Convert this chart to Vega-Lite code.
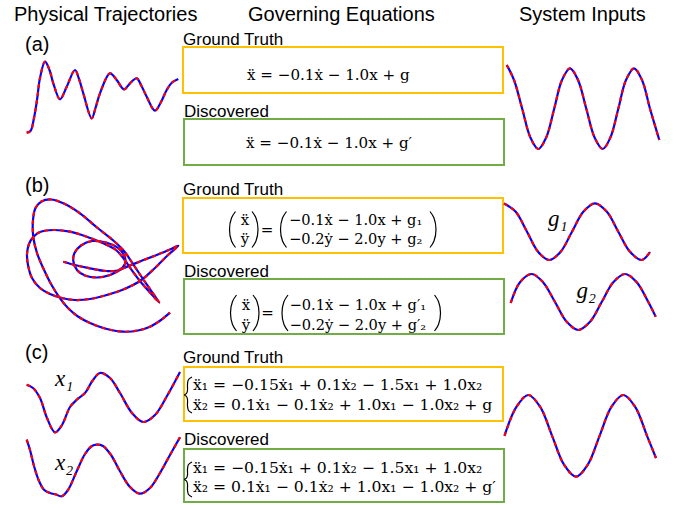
{
  "$schema": "https://vega.github.io/schema/vega-lite/v6.json",
  "width": 677,
  "height": 508,
  "autosize": {"type": "fit", "contains": "padding"},
  "padding": 0,
  "background": "white",
  "config": {"view": {"stroke": null}},
  "datasets": {
    "boxes": [
      {"x": 183, "y": 47, "x2": 503, "y2": 93, "c": "gt"},
      {"x": 184, "y": 119, "x2": 504, "y2": 165, "c": "disc"},
      {"x": 183, "y": 198, "x2": 503, "y2": 253, "c": "gt"},
      {"x": 184, "y": 279, "x2": 504, "y2": 334, "c": "disc"},
      {"x": 184, "y": 367, "x2": 503, "y2": 421, "c": "gt"},
      {"x": 184, "y": 449, "x2": 504, "y2": 502, "c": "disc"}
    ],
    "texts": [
      {"k": "h", "t": "Physical Trajectories", "x": 14, "y": 21},
      {"k": "h", "t": "Governing Equations", "x": 248, "y": 21},
      {"k": "h", "t": "System Inputs", "x": 519, "y": 21},
      {"k": "h", "t": "(a)", "x": 25, "y": 51},
      {"k": "h", "t": "(b)", "x": 25, "y": 191.5},
      {"k": "h", "t": "(c)", "x": 25, "y": 358.5},
      {"k": "l", "t": "Ground Truth", "x": 183, "y": 45},
      {"k": "l", "t": "Discovered", "x": 184, "y": 116.5},
      {"k": "l", "t": "Ground Truth", "x": 183, "y": 195.3},
      {"k": "l", "t": "Discovered", "x": 184, "y": 277},
      {"k": "l", "t": "Ground Truth", "x": 183, "y": 363.3},
      {"k": "l", "t": "Discovered", "x": 184, "y": 445},
      {"k": "ea", "t": "ẍ = −0.1ẋ − 1.0x + g", "x": 247, "y": 80},
      {"k": "ea", "t": "ẍ = −0.1ẋ − 1.0x + g′", "x": 246, "y": 148},
      {"k": "eb", "t": "−0.1ẋ − 1.0x + g₁", "x": 289, "y": 224.7},
      {"k": "eb", "t": "−0.2ẏ − 2.0y + g₂", "x": 289, "y": 244},
      {"k": "eb", "t": "−0.1ẋ − 1.0x + g′₁", "x": 289.5, "y": 309.7},
      {"k": "eb", "t": "−0.2ẏ − 2.0y + g′₂", "x": 289.5, "y": 329.7},
      {"k": "ec", "t": "ẍ₁ = −0.15ẋ₁ + 0.1ẋ₂ − 1.5x₁ + 1.0x₂", "x": 193, "y": 390},
      {"k": "ec", "t": "ẍ₂ = 0.1ẋ₁ − 0.1ẋ₂ + 1.0x₁ − 1.0x₂ + g", "x": 193, "y": 410},
      {"k": "ec", "t": "ẍ₁ = −0.15ẋ₁ + 0.1ẋ₂ − 1.5x₁ + 1.0x₂", "x": 193, "y": 473.3},
      {"k": "ec", "t": "ẍ₂ = 0.1ẋ₁ − 0.1ẋ₂ + 1.0x₁ − 1.0x₂ + g′", "x": 193, "y": 491.7},
      {"k": "c", "t": "ẍ", "x": 245, "y": 224.7},
      {"k": "c", "t": "ÿ", "x": 245, "y": 244},
      {"k": "c", "t": "=", "x": 267, "y": 234.5},
      {"k": "c", "t": "ẍ", "x": 246, "y": 309.7},
      {"k": "c", "t": "ÿ", "x": 246, "y": 329.7},
      {"k": "c", "t": "=", "x": 267.5, "y": 317.5},
      {"k": "v", "t": "g₁", "x": 548, "y": 226},
      {"k": "v", "t": "g₂", "x": 576.5, "y": 298},
      {"k": "v", "t": "x₁", "x": 55, "y": 386},
      {"k": "v", "t": "x₂", "x": 55, "y": 469.5}
    ],
    "parens": [
      {"id": "p1", "o": 1, "x": 235.5, "y": 211.5}, {"id": "p1", "o": 2, "x": 231.5, "y": 218}, {"id": "p1", "o": 3, "x": 229.5, "y": 229.5}, {"id": "p1", "o": 4, "x": 231.5, "y": 241}, {"id": "p1", "o": 5, "x": 235.5, "y": 247.5},
      {"id": "p2", "o": 1, "x": 252, "y": 211.5}, {"id": "p2", "o": 2, "x": 256, "y": 218}, {"id": "p2", "o": 3, "x": 258, "y": 229.5}, {"id": "p2", "o": 4, "x": 256, "y": 241}, {"id": "p2", "o": 5, "x": 252, "y": 247.5},
      {"id": "p3", "o": 1, "x": 286.5, "y": 211.5}, {"id": "p3", "o": 2, "x": 282.5, "y": 218}, {"id": "p3", "o": 3, "x": 280.5, "y": 229.5}, {"id": "p3", "o": 4, "x": 282.5, "y": 241}, {"id": "p3", "o": 5, "x": 286.5, "y": 247.5},
      {"id": "p4", "o": 1, "x": 430, "y": 211.5}, {"id": "p4", "o": 2, "x": 434, "y": 218}, {"id": "p4", "o": 3, "x": 436, "y": 229.5}, {"id": "p4", "o": 4, "x": 434, "y": 241}, {"id": "p4", "o": 5, "x": 430, "y": 247.5},
      {"id": "p5", "o": 1, "x": 236.5, "y": 295}, {"id": "p5", "o": 2, "x": 232.5, "y": 301.5}, {"id": "p5", "o": 3, "x": 230.5, "y": 313}, {"id": "p5", "o": 4, "x": 232.5, "y": 324.5}, {"id": "p5", "o": 5, "x": 236.5, "y": 331},
      {"id": "p6", "o": 1, "x": 253, "y": 295}, {"id": "p6", "o": 2, "x": 257, "y": 301.5}, {"id": "p6", "o": 3, "x": 259, "y": 313}, {"id": "p6", "o": 4, "x": 257, "y": 324.5}, {"id": "p6", "o": 5, "x": 253, "y": 331},
      {"id": "p7", "o": 1, "x": 288, "y": 295}, {"id": "p7", "o": 2, "x": 284, "y": 301.5}, {"id": "p7", "o": 3, "x": 282, "y": 313}, {"id": "p7", "o": 4, "x": 284, "y": 324.5}, {"id": "p7", "o": 5, "x": 288, "y": 331},
      {"id": "p8", "o": 1, "x": 434.5, "y": 295}, {"id": "p8", "o": 2, "x": 438.5, "y": 301.5}, {"id": "p8", "o": 3, "x": 440.5, "y": 313}, {"id": "p8", "o": 4, "x": 438.5, "y": 324.5}, {"id": "p8", "o": 5, "x": 434.5, "y": 331},
      {"id": "b1", "o": 1, "x": 192, "y": 377}, {"id": "b1", "o": 2, "x": 188.5, "y": 379.5}, {"id": "b1", "o": 3, "x": 187.5, "y": 384}, {"id": "b1", "o": 4, "x": 187.5, "y": 390.5}, {"id": "b1", "o": 5, "x": 186.5, "y": 393.5}, {"id": "b1", "o": 6, "x": 184.5, "y": 395}, {"id": "b1", "o": 7, "x": 186.5, "y": 396.5}, {"id": "b1", "o": 8, "x": 187.5, "y": 399.5}, {"id": "b1", "o": 9, "x": 187.5, "y": 406}, {"id": "b1", "o": 10, "x": 188.5, "y": 410.5}, {"id": "b1", "o": 11, "x": 192, "y": 413},
      {"id": "b2", "o": 1, "x": 192, "y": 462}, {"id": "b2", "o": 2, "x": 188.5, "y": 464.5}, {"id": "b2", "o": 3, "x": 187.5, "y": 469}, {"id": "b2", "o": 4, "x": 187.5, "y": 475}, {"id": "b2", "o": 5, "x": 186.5, "y": 478}, {"id": "b2", "o": 6, "x": 184.5, "y": 479.5}, {"id": "b2", "o": 7, "x": 186.5, "y": 481}, {"id": "b2", "o": 8, "x": 187.5, "y": 484}, {"id": "b2", "o": 9, "x": 187.5, "y": 490}, {"id": "b2", "o": 10, "x": 188.5, "y": 494.5}, {"id": "b2", "o": 11, "x": 192, "y": 497}
    ],
    "curves": [
      {"id": "a_traj", "o": 1, "x": 26.7, "y": 132.7}, {"id": "a_traj", "o": 2, "x": 30.5, "y": 131}, {"id": "a_traj", "o": 3, "x": 34, "y": 118}, {"id": "a_traj", "o": 4, "x": 37, "y": 100}, {"id": "a_traj", "o": 5, "x": 40, "y": 78}, {"id": "a_traj", "o": 6, "x": 45, "y": 61.7}, {"id": "a_traj", "o": 7, "x": 49.5, "y": 70}, {"id": "a_traj", "o": 8, "x": 53.3, "y": 83.3}, {"id": "a_traj", "o": 9, "x": 60, "y": 99.3}, {"id": "a_traj", "o": 10, "x": 66.7, "y": 86.7}, {"id": "a_traj", "o": 11, "x": 75, "y": 70}, {"id": "a_traj", "o": 12, "x": 79, "y": 79}, {"id": "a_traj", "o": 13, "x": 83.3, "y": 93.3}, {"id": "a_traj", "o": 14, "x": 91.7, "y": 118.3}, {"id": "a_traj", "o": 15, "x": 95.5, "y": 108}, {"id": "a_traj", "o": 16, "x": 100, "y": 93.3}, {"id": "a_traj", "o": 17, "x": 110, "y": 73.3}, {"id": "a_traj", "o": 18, "x": 116.7, "y": 80}, {"id": "a_traj", "o": 19, "x": 124, "y": 89.3}, {"id": "a_traj", "o": 20, "x": 130, "y": 83.3}, {"id": "a_traj", "o": 21, "x": 136.7, "y": 78.3}, {"id": "a_traj", "o": 22, "x": 141.5, "y": 86}, {"id": "a_traj", "o": 23, "x": 146.7, "y": 96.7}, {"id": "a_traj", "o": 24, "x": 155, "y": 110.7}, {"id": "a_traj", "o": 25, "x": 161, "y": 102}, {"id": "a_traj", "o": 26, "x": 166.7, "y": 90}, {"id": "a_traj", "o": 27, "x": 172, "y": 82.5}, {"id": "a_traj", "o": 28, "x": 178.3, "y": 79},
      {"id": "a_in", "o": 1, "x": 506.7, "y": 65}, {"id": "a_in", "o": 2, "x": 514, "y": 80}, {"id": "a_in", "o": 3, "x": 522.2, "y": 108.7}, {"id": "a_in", "o": 4, "x": 530.3, "y": 137.3}, {"id": "a_in", "o": 5, "x": 538.3, "y": 149}, {"id": "a_in", "o": 6, "x": 546.3, "y": 137.3}, {"id": "a_in", "o": 7, "x": 554.2, "y": 108.7}, {"id": "a_in", "o": 8, "x": 562, "y": 80}, {"id": "a_in", "o": 9, "x": 570, "y": 68.3}, {"id": "a_in", "o": 10, "x": 578, "y": 80}, {"id": "a_in", "o": 11, "x": 586.3, "y": 108.7}, {"id": "a_in", "o": 12, "x": 594.5, "y": 137.3}, {"id": "a_in", "o": 13, "x": 602.7, "y": 149}, {"id": "a_in", "o": 14, "x": 610.5, "y": 137.3}, {"id": "a_in", "o": 15, "x": 618.3, "y": 108.7}, {"id": "a_in", "o": 16, "x": 626, "y": 80}, {"id": "a_in", "o": 17, "x": 634, "y": 68.3}, {"id": "a_in", "o": 18, "x": 642, "y": 80}, {"id": "a_in", "o": 19, "x": 650, "y": 108.7}, {"id": "a_in", "o": 20, "x": 659.3, "y": 140},
      {"id": "b_in1", "o": 1, "x": 504, "y": 203.5}, {"id": "b_in1", "o": 2, "x": 515.5, "y": 211.6}, {"id": "b_in1", "o": 3, "x": 527, "y": 231.7}, {"id": "b_in1", "o": 4, "x": 538, "y": 251.7}, {"id": "b_in1", "o": 5, "x": 549.3, "y": 260}, {"id": "b_in1", "o": 6, "x": 560.7, "y": 251.7}, {"id": "b_in1", "o": 7, "x": 572, "y": 231.7}, {"id": "b_in1", "o": 8, "x": 583.5, "y": 211.6}, {"id": "b_in1", "o": 9, "x": 595, "y": 203.3}, {"id": "b_in1", "o": 10, "x": 606.7, "y": 211.6}, {"id": "b_in1", "o": 11, "x": 618.3, "y": 231.7}, {"id": "b_in1", "o": 12, "x": 630, "y": 251.7}, {"id": "b_in1", "o": 13, "x": 641.7, "y": 260}, {"id": "b_in1", "o": 14, "x": 650, "y": 252},
      {"id": "b_in2", "o": 1, "x": 510.7, "y": 303}, {"id": "b_in2", "o": 2, "x": 520, "y": 282.2}, {"id": "b_in2", "o": 3, "x": 531.7, "y": 274}, {"id": "b_in2", "o": 4, "x": 543, "y": 282.2}, {"id": "b_in2", "o": 5, "x": 555, "y": 302}, {"id": "b_in2", "o": 6, "x": 566.7, "y": 321.8}, {"id": "b_in2", "o": 7, "x": 578.3, "y": 330}, {"id": "b_in2", "o": 8, "x": 590, "y": 321.8}, {"id": "b_in2", "o": 9, "x": 601.7, "y": 302}, {"id": "b_in2", "o": 10, "x": 613.3, "y": 282.2}, {"id": "b_in2", "o": 11, "x": 625, "y": 274}, {"id": "b_in2", "o": 12, "x": 636.7, "y": 282.2}, {"id": "b_in2", "o": 13, "x": 648.3, "y": 302}, {"id": "b_in2", "o": 14, "x": 655.7, "y": 316.7},
      {"id": "c_x1", "o": 1, "x": 26.7, "y": 384.7}, {"id": "c_x1", "o": 2, "x": 33, "y": 388}, {"id": "c_x1", "o": 3, "x": 40, "y": 398}, {"id": "c_x1", "o": 4, "x": 47, "y": 418}, {"id": "c_x1", "o": 5, "x": 55, "y": 432.3}, {"id": "c_x1", "o": 6, "x": 62, "y": 425}, {"id": "c_x1", "o": 7, "x": 70, "y": 407}, {"id": "c_x1", "o": 8, "x": 77, "y": 399.5}, {"id": "c_x1", "o": 9, "x": 85, "y": 393}, {"id": "c_x1", "o": 10, "x": 93, "y": 380}, {"id": "c_x1", "o": 11, "x": 100, "y": 373}, {"id": "c_x1", "o": 12, "x": 110, "y": 378}, {"id": "c_x1", "o": 13, "x": 120, "y": 393}, {"id": "c_x1", "o": 14, "x": 132, "y": 413}, {"id": "c_x1", "o": 15, "x": 143.3, "y": 422}, {"id": "c_x1", "o": 16, "x": 155, "y": 415}, {"id": "c_x1", "o": 17, "x": 167, "y": 396}, {"id": "c_x1", "o": 18, "x": 180, "y": 372},
      {"id": "c_x2", "o": 1, "x": 26.7, "y": 439.7}, {"id": "c_x2", "o": 2, "x": 30, "y": 450}, {"id": "c_x2", "o": 3, "x": 34, "y": 466}, {"id": "c_x2", "o": 4, "x": 39, "y": 481}, {"id": "c_x2", "o": 5, "x": 44, "y": 489.7}, {"id": "c_x2", "o": 6, "x": 50, "y": 493}, {"id": "c_x2", "o": 7, "x": 56, "y": 494.5}, {"id": "c_x2", "o": 8, "x": 61.7, "y": 496.3}, {"id": "c_x2", "o": 9, "x": 68, "y": 490}, {"id": "c_x2", "o": 10, "x": 76.7, "y": 471.3}, {"id": "c_x2", "o": 11, "x": 85, "y": 454}, {"id": "c_x2", "o": 12, "x": 92, "y": 446}, {"id": "c_x2", "o": 13, "x": 96.7, "y": 444.7}, {"id": "c_x2", "o": 14, "x": 103, "y": 446}, {"id": "c_x2", "o": 15, "x": 111, "y": 455}, {"id": "c_x2", "o": 16, "x": 120, "y": 471.3}, {"id": "c_x2", "o": 17, "x": 130, "y": 487}, {"id": "c_x2", "o": 18, "x": 140, "y": 493.7}, {"id": "c_x2", "o": 19, "x": 150, "y": 488}, {"id": "c_x2", "o": 20, "x": 160, "y": 473}, {"id": "c_x2", "o": 21, "x": 170, "y": 455}, {"id": "c_x2", "o": 22, "x": 180, "y": 437.3},
      {"id": "c_in", "o": 1, "x": 504.5, "y": 435.8}, {"id": "c_in", "o": 2, "x": 516.4, "y": 406.9}, {"id": "c_in", "o": 3, "x": 528.3, "y": 395}, {"id": "c_in", "o": 4, "x": 540.2, "y": 406.9}, {"id": "c_in", "o": 5, "x": 552.1, "y": 435.8}, {"id": "c_in", "o": 6, "x": 564, "y": 464.7}, {"id": "c_in", "o": 7, "x": 576, "y": 476.7}, {"id": "c_in", "o": 8, "x": 587.8, "y": 464.7}, {"id": "c_in", "o": 9, "x": 599.6, "y": 435.8}, {"id": "c_in", "o": 10, "x": 611.4, "y": 406.9}, {"id": "c_in", "o": 11, "x": 623.3, "y": 395}, {"id": "c_in", "o": 12, "x": 635.2, "y": 406.9}, {"id": "c_in", "o": 13, "x": 647, "y": 435.8}, {"id": "c_in", "o": 14, "x": 656, "y": 458}
    ],
    "traj": [
      {"o": 1, "x": 63.3, "y": 261.7}, {"o": 2, "x": 75, "y": 265}, {"o": 3, "x": 86.7, "y": 267.7}, {"o": 4, "x": 106.7, "y": 271}, {"o": 5, "x": 119, "y": 270}, {"o": 6, "x": 125, "y": 264}, {"o": 7, "x": 124.5, "y": 256}, {"o": 8, "x": 118, "y": 248}, {"o": 9, "x": 106, "y": 242.5}, {"o": 10, "x": 92, "y": 241}, {"o": 11, "x": 81, "y": 245.5}, {"o": 12, "x": 74.5, "y": 253}, {"o": 13, "x": 73.3, "y": 261}, {"o": 14, "x": 77, "y": 270}, {"o": 15, "x": 85, "y": 275.5}, {"o": 16, "x": 97, "y": 277.5}, {"o": 17, "x": 110, "y": 275}, {"o": 18, "x": 123.3, "y": 268.3}, {"o": 19, "x": 140, "y": 261.5}, {"o": 20, "x": 156.7, "y": 255}, {"o": 21, "x": 170, "y": 249.5}, {"o": 22, "x": 178.3, "y": 245.7},
      {"o": 23, "x": 168, "y": 255}, {"o": 24, "x": 155, "y": 268}, {"o": 25, "x": 140, "y": 281}, {"o": 26, "x": 122, "y": 290}, {"o": 27, "x": 105, "y": 295.5}, {"o": 28, "x": 90, "y": 299}, {"o": 29, "x": 75, "y": 300}, {"o": 30, "x": 63, "y": 298.3}, {"o": 31, "x": 50, "y": 294}, {"o": 32, "x": 40, "y": 288}, {"o": 33, "x": 32, "y": 278}, {"o": 34, "x": 28, "y": 265}, {"o": 35, "x": 27, "y": 254}, {"o": 36, "x": 29, "y": 244}, {"o": 37, "x": 33.3, "y": 237}, {"o": 38, "x": 40, "y": 232}, {"o": 39, "x": 53.3, "y": 230}, {"o": 40, "x": 70, "y": 231.7}, {"o": 41, "x": 86.7, "y": 236.7}, {"o": 42, "x": 103.3, "y": 243.3}, {"o": 43, "x": 116, "y": 250}, {"o": 44, "x": 124, "y": 259}, {"o": 45, "x": 131, "y": 269}, {"o": 46, "x": 140, "y": 281}, {"o": 47, "x": 149.5, "y": 292}, {"o": 48, "x": 159.3, "y": 302.7},
      {"o": 49, "x": 151, "y": 290.5}, {"o": 50, "x": 142, "y": 277.5}, {"o": 51, "x": 133, "y": 264}, {"o": 52, "x": 124, "y": 251}, {"o": 53, "x": 113.3, "y": 240.5}, {"o": 54, "x": 97, "y": 227.5}, {"o": 55, "x": 80, "y": 213.3}, {"o": 56, "x": 63.3, "y": 203.3}, {"o": 57, "x": 51, "y": 199.5}, {"o": 58, "x": 41.5, "y": 201.5}, {"o": 59, "x": 35.5, "y": 208}, {"o": 60, "x": 33, "y": 220}, {"o": 61, "x": 33.3, "y": 237}, {"o": 62, "x": 37, "y": 253}, {"o": 63, "x": 43.3, "y": 268.3}, {"o": 64, "x": 51, "y": 284}, {"o": 65, "x": 60, "y": 298.3}, {"o": 66, "x": 69, "y": 309}, {"o": 67, "x": 78, "y": 316.5}, {"o": 68, "x": 90, "y": 323}, {"o": 69, "x": 105, "y": 328.5}, {"o": 70, "x": 123.3, "y": 331.7}, {"o": 71, "x": 138, "y": 330.5}, {"o": 72, "x": 150, "y": 326.7}, {"o": 73, "x": 161, "y": 320}, {"o": 74, "x": 170, "y": 312.7}
    ]
  },
  "encoding": {
    "x": {"field": "x", "type": "quantitative", "scale": {"domain": [0, 677], "nice": false, "zero": false}, "axis": null},
    "y": {"field": "y", "type": "quantitative", "scale": {"domain": [0, 508], "reverse": true, "nice": false, "zero": false}, "axis": null}
  },
  "layer": [
    {
      "data": {"name": "boxes"},
      "mark": {"type": "rect", "fill": null, "fillOpacity": 0, "strokeWidth": 2},
      "encoding": {
        "x2": {"field": "x2"},
        "y2": {"field": "y2"},
        "stroke": {"field": "c", "type": "nominal", "scale": {"domain": ["gt", "disc"], "range": ["#FFC000", "#70AD47"]}, "legend": null}
      }
    },
    {
      "data": {"name": "texts"},
      "transform": [{"filter": "datum.k === 'h'"}],
      "mark": {"type": "text", "align": "left", "baseline": "alphabetic", "font": "Liberation Sans, Arial, sans-serif", "fontSize": 20, "color": "#000000"},
      "encoding": {"text": {"field": "t"}}
    },
    {
      "data": {"name": "texts"},
      "transform": [{"filter": "datum.k === 'l'"}],
      "mark": {"type": "text", "align": "left", "baseline": "alphabetic", "font": "Liberation Sans, Arial, sans-serif", "fontSize": 17, "color": "#000000"},
      "encoding": {"text": {"field": "t"}}
    },
    {
      "data": {"name": "texts"},
      "transform": [{"filter": "datum.k === 'ea'"}],
      "mark": {"type": "text", "align": "left", "baseline": "alphabetic", "font": "DejaVu Serif, serif", "fontSize": 15.1, "color": "#000000"},
      "encoding": {"text": {"field": "t"}}
    },
    {
      "data": {"name": "texts"},
      "transform": [{"filter": "datum.k === 'eb'"}],
      "mark": {"type": "text", "align": "left", "baseline": "alphabetic", "font": "DejaVu Serif, serif", "fontSize": 14.6, "color": "#000000"},
      "encoding": {"text": {"field": "t"}}
    },
    {
      "data": {"name": "texts"},
      "transform": [{"filter": "datum.k === 'ec'"}],
      "mark": {"type": "text", "align": "left", "baseline": "alphabetic", "font": "DejaVu Serif, serif", "fontSize": 15.6, "color": "#000000"},
      "encoding": {"text": {"field": "t"}}
    },
    {
      "data": {"name": "texts"},
      "transform": [{"filter": "datum.k === 'c'"}],
      "mark": {"type": "text", "align": "center", "baseline": "alphabetic", "font": "DejaVu Serif, serif", "fontSize": 15, "color": "#000000"},
      "encoding": {"text": {"field": "t"}}
    },
    {
      "data": {"name": "texts"},
      "transform": [{"filter": "datum.k === 'v'"}],
      "mark": {"type": "text", "align": "left", "baseline": "alphabetic", "font": "Liberation Serif, DejaVu Serif, serif", "fontStyle": "italic", "fontSize": 23, "color": "#000000"},
      "encoding": {"text": {"field": "t"}}
    },
    {
      "data": {"name": "parens"},
      "mark": {"type": "line", "interpolate": "catmull-rom", "stroke": "#000000", "strokeWidth": 1.2},
      "encoding": {"detail": {"field": "id"}, "order": {"field": "o", "type": "quantitative"}}
    },
    {
      "data": {"name": "curves"},
      "mark": {"type": "line", "interpolate": "catmull-rom", "stroke": "#0000FF", "strokeWidth": 2.2},
      "encoding": {"detail": {"field": "id"}, "order": {"field": "o", "type": "quantitative"}}
    },
    {
      "data": {"name": "curves"},
      "mark": {"type": "line", "interpolate": "catmull-rom", "stroke": "#FF0000", "strokeWidth": 2.2, "strokeDash": [4, 4]},
      "encoding": {"detail": {"field": "id"}, "order": {"field": "o", "type": "quantitative"}}
    },
    {
      "data": {"name": "traj"},
      "mark": {"type": "line", "interpolate": "catmull-rom", "stroke": "#0000FF", "strokeWidth": 2.2},
      "encoding": {"order": {"field": "o", "type": "quantitative"}}
    },
    {
      "data": {"name": "traj"},
      "mark": {"type": "line", "interpolate": "catmull-rom", "stroke": "#FF0000", "strokeWidth": 2.2, "strokeDash": [4, 4]},
      "encoding": {"order": {"field": "o", "type": "quantitative"}}
    }
  ]
}
